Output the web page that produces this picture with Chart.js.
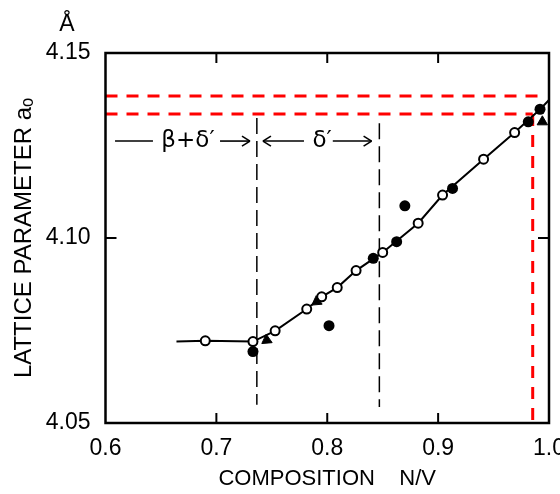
<!DOCTYPE html>
<html>
<head>
<meta charset="utf-8">
<script src="https://cdn.jsdelivr.net/npm/chart.js@4.4.0/dist/chart.umd.min.js"></script>
<style>
  html, body { margin: 0; padding: 0; background: #fff; }
  #wrap { width: 560px; height: 494px; }
</style>
</head>
<body>
<div id="wrap"><canvas id="myChart"></canvas></div>
<script>
// open circles (measured points)
const openX = [0.690, 0.733, 0.753, 0.7815, 0.795, 0.809, 0.826, 0.850, 0.882, 0.904, 0.941, 0.969];
const openY = [4.0722, 4.0720, 4.0749, 4.0808, 4.0841, 4.0866, 4.0912, 4.0961, 4.1040, 4.1116, 4.1213, 4.1285];
// filled circles
const solidX = [0.733, 0.8016, 0.8415, 0.8626, 0.870, 0.913, 0.9813, 0.9919];
const solidY = [4.0693, 4.0763, 4.0945, 4.0990, 4.1087, 4.1134, 4.1314, 4.1348];
// filled triangles
const triX = [0.7454, 0.7905, 0.994];
const triY = [4.0724, 4.0828, 4.1314];
const triTurn = [-125, -125, 0];
// drawn curve through the points
const curveX = [0.664, 0.690, 0.733, 0.753, 0.7815, 0.795, 0.809, 0.826, 0.850, 0.882, 0.904, 0.941, 0.969, 0.992, 1.0];
const curveY = [4.0720, 4.0722, 4.0720, 4.0749, 4.0808, 4.0841, 4.0866, 4.0912, 4.0961, 4.1040, 4.1116, 4.1213, 4.1285, 4.1348, 4.1373];
// phase boundaries (black dashed)
const boundX = [0.7365, 0.847];
const boundTop = [4.1324, 4.131];
const boundBottom = [4.0549, 4.0543];
// red guide lines
const redLevels = [4.1384, 4.1335];
const redEnds = [0.995, 0.9853];
const redDropX = 0.9853;
// axes
const xTicks = [0.6, 0.7, 0.8, 0.9, 1.0];
const yTicks = [4.05, 4.10, 4.15];

const pts = (xs, ys) => xs.map((v, i) => ({ x: v, y: ys[i] }));

const datasets = [
  {
    label: "triangles",
    data: pts(triX, triY),
    pointStyle: "triangle",
    pointRotation: triTurn,
    pointRadius: 6,
    backgroundColor: "#000",
    borderColor: "#000",
    borderWidth: 1,
    showLine: false,
  },
  {
    label: "filled",
    data: pts(solidX, solidY),
    pointRadius: 5.5,
    backgroundColor: "#000",
    borderColor: "#000",
    borderWidth: 0,
    showLine: false,
  },
  {
    label: "open",
    data: pts(openX, openY),
    pointRadius: 4.5,
    backgroundColor: "#fff",
    borderColor: "#000",
    borderWidth: 2,
    showLine: false,
  },
  {
    label: "curve",
    data: pts(curveX, curveY),
    showLine: true,
    borderColor: "#000",
    borderWidth: 2,
    pointRadius: 0,
  },
];

boundX.forEach((bx, i) => {
  datasets.push({
    label: "bound" + i,
    data: [{ x: bx, y: boundTop[i] }, { x: bx, y: boundBottom[i] }],
    showLine: true,
    borderColor: "#000",
    borderWidth: 1.5,
    borderDash: [16, 7],
    pointRadius: 0,
  });
});

redLevels.forEach((ry, i) => {
  datasets.push({
    label: "red" + i,
    data: [{ x: 0.6, y: ry }, { x: redEnds[i], y: ry }],
    showLine: true,
    borderColor: "#ff0000",
    borderWidth: 3,
    borderDash: [12, 9],
    pointRadius: 0,
  });
});
datasets.push({
  label: "redDrop",
  data: [{ x: redDropX, y: redLevels[1] }, { x: redDropX, y: 4.05 }],
  showLine: true,
  borderColor: "#ff0000",
  borderWidth: 3,
  borderDash: [12, 9],
  pointRadius: 0,
});

// frame, inward ticks and the phase labels
const framePlugin = {
  id: "frame",
  afterDraw(chart) {
    const ctx = chart.ctx;
    const a = chart.chartArea;
    const x = chart.scales.x;
    const y = chart.scales.y;
    const seg = (x1, y1, x2, y2) => {
      ctx.beginPath();
      ctx.moveTo(x1, y1);
      ctx.lineTo(x2, y2);
      ctx.stroke();
    };
    ctx.save();
    ctx.strokeStyle = "#000";
    ctx.lineWidth = 2.5;
    ctx.strokeRect(a.left, a.top, a.right - a.left, a.bottom - a.top);
    ctx.lineWidth = 2;
    xTicks.slice(1, -1).forEach((v) => {
      const px = x.getPixelForValue(v);
      seg(px, a.bottom, px, a.bottom - 10);
      seg(px, a.top, px, a.top + 10);
    });
    yTicks.slice(1, -1).forEach((v) => {
      const py = y.getPixelForValue(v);
      seg(a.left, py, a.left + 11, py);
      seg(a.right, py, a.right - 11, py);
    });

    // arrows
    const ay = y.getPixelForValue(4.1262);
    const arrow = (x1, x2) => {
      const p1 = x.getPixelForValue(x1);
      const p2 = x.getPixelForValue(x2);
      ctx.lineWidth = 1.6;
      seg(p1, ay, p2, ay);
      const d = p2 > p1 ? -1 : 1;
      seg(p2, ay, p2 + d * 8, ay - 5);
      seg(p2, ay, p2 + d * 8, ay + 5);
    };
    ctx.lineWidth = 1.6;
    seg(x.getPixelForValue(0.6086), ay, x.getPixelForValue(0.6428), ay);
    arrow(0.7033, 0.7303);
    arrow(0.779, 0.742);
    arrow(0.805, 0.840);

    ctx.fillStyle = "#000";
    ctx.textAlign = "center";
    ctx.textBaseline = "middle";
    ctx.font = "23px 'DejaVu Sans'";
    ctx.fillText("\u03B2+\u03B4\u2032", x.getPixelForValue(0.6744), ay);
    ctx.fillText("\u03B4\u2032", x.getPixelForValue(0.7953), ay);

    // unit above the y axis
    ctx.font = "23px 'Liberation Sans'";
    ctx.fillText("\u00C5", 67, 25);
    ctx.restore();
  },
};

new Chart("myChart", {
  type: "scatter",
  data: { datasets: datasets },
  plugins: [framePlugin],
  options: {
    responsive: true,
    maintainAspectRatio: false,
    animation: false,
    layout: { padding: { top: 53, right: 11, left: 0, bottom: 0 } },
    plugins: { legend: { display: false }, tooltip: { enabled: false } },
    scales: {
      x: {
        type: "linear",
        min: 0.6,
        max: 1.0,
        afterBuildTicks: (s) => { s.ticks = xTicks.map((v) => ({ value: v })); },
        afterFit: (s) => {
          s.height = 71;
          s.paddingLeft = 0;
          s.paddingRight = 0;
        },
        grid: { display: false, drawTicks: false },
        border: { display: false },
        ticks: {
          padding: 12,
          color: "#000",
          font: { family: "Liberation Sans", size: 23 },
          callback: (v) => Number(v).toFixed(1),
        },
        title: {
          display: true,
          text: "COMPOSITION    N/V",
          color: "#000",
          font: { family: "Liberation Sans", size: 22 },
          padding: { top: 0, bottom: 2 },
        },
      },
      y: {
        type: "linear",
        min: 4.05,
        max: 4.15,
        afterBuildTicks: (s) => { s.ticks = yTicks.map((v) => ({ value: v })); },
        afterFit: (s) => {
          s.width = 105.5;
          s.paddingTop = 0;
          s.paddingBottom = 0;
        },
        grid: { display: false, drawTicks: false },
        border: { display: false },
        ticks: {
          padding: 15,
          color: "#000",
          font: { family: "Liberation Sans", size: 23 },
          callback: (v) => Number(v).toFixed(2),
        },
        title: {
          display: true,
          text: "LATTICE PARAMETER a\u2092",
          color: "#000",
          font: { family: "Liberation Sans", size: 24 },
          padding: { top: 10, bottom: 0 },
        },
      },
    },
  },
});
</script>
</body>
</html>
